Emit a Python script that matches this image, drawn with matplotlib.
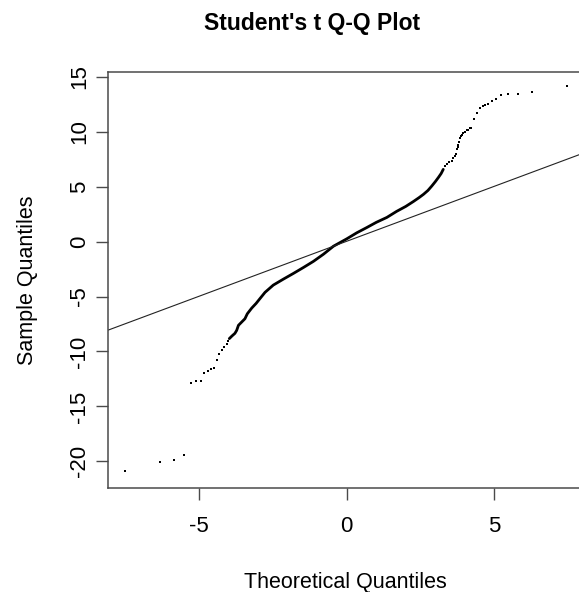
"""
Student's t Q-Q plot, R base-graphics look
Run: python plot.py
"""

import matplotlib
matplotlib.use("Agg")
import matplotlib.pyplot as plt

plt.rcParams['font.family'] = ['Liberation Sans', 'DejaVu Sans']

# Dense middle of the sample (ordered by theoretical quantile)
core_x = [-3.98, -3.89, -3.79, -3.73, -3.67, -3.56, -3.45, -3.37, -3.22, -3.07,
          -2.96, -2.77, -2.49, -2.15, -1.81, -1.47, -1.13, -0.79, -0.45, 0.0,
          0.34, 0.68, 1.0, 1.36, 1.69, 2.0, 2.26, 2.45, 2.6, 2.75,
          2.88, 3.0, 3.11, 3.2, 3.27]
core_y = [-8.83, -8.59, -8.35, -8.08, -7.62, -7.32, -7.02, -6.57, -6.05, -5.62,
          -5.25, -4.62, -3.96, -3.42, -2.9, -2.36, -1.8, -1.15, -0.42, 0.25,
          0.8, 1.28, 1.75, 2.2, 2.75, 3.2, 3.65, 4.0, 4.3, 4.65,
          5.05, 5.45, 5.85, 6.2, 6.57]

# Sparse tails
low_x = [-7.52, -6.33, -5.84, -5.50, -5.29, -5.11, -4.94, -4.83, -4.71, -4.60,
         -4.49, -4.41, -4.32, -4.24, -4.16, -4.07, -4.02]
low_y = [-20.85, -20.03, -19.85, -19.43, -12.88, -12.73, -12.64, -11.97, -11.76, -11.61,
         -11.49, -10.73, -10.19, -9.89, -9.62, -9.28, -9.05]

high_x = [3.33, 3.39, 3.47, 3.56, 3.61, 3.67, 3.70, 3.73, 3.76, 3.78,
          3.82, 3.84, 3.88, 3.90, 3.95, 4.01, 4.07, 4.12, 4.18, 4.21,
          4.32, 4.41, 4.50, 4.61, 4.69, 4.80, 4.92, 5.06, 5.23, 5.48,
          5.80, 6.29, 7.48]
high_y = [6.87, 7.02, 7.20, 7.32, 7.60, 7.77, 8.00, 8.38, 8.60, 8.83,
          9.04, 9.44, 9.60, 9.74, 9.85, 10.00, 10.13, 10.19, 10.30, 10.34,
          11.16, 11.70, 12.16, 12.30, 12.45, 12.52, 12.82, 12.97, 13.30, 13.42,
          13.42, 13.63, 14.15]

# qqline
line_intercept = 0.03
line_slope = 1.0

x_ticks = [-5, 0, 5]
y_ticks = [-20, -15, -10, -5, 0, 5, 10, 15]


def create_qq_plot():
    """Q-Q plot with reference line"""
    W, H = 579, 592
    fig = plt.figure(figsize=(W / 100, H / 100), dpi=100)
    # plot box runs a little past the right edge of the picture, as in the original
    ax = fig.add_axes([108 / W, 1 - 488 / H, 477.5 / W, 416 / H])
    xlim = (-8.09, 8.09)
    ylim = (-22.42, 15.43)

    edge = '#4a4a4a'
    ax.plot(core_x, core_y, color='black', lw=2.0, solid_capstyle='round')
    ax.plot(low_x, low_y, ls='none', marker='s', ms=2.1, mew=0, color='black')
    ax.plot(high_x, high_y, ls='none', marker='s', ms=2.1, mew=0, color='black')
    ax.plot(list(xlim), [line_intercept + line_slope * v for v in xlim],
            color='#222222', lw=0.8)

    ax.set_xlim(*xlim)
    ax.set_ylim(*ylim)
    ax.set_xticks(x_ticks)
    ax.set_yticks(y_ticks)
    ax.set_xticklabels([str(t) for t in x_ticks])
    ax.set_yticklabels([str(t) for t in y_ticks], rotation=90, va='center')

    for s in ax.spines.values():
        s.set_color(edge)
        s.set_linewidth(1.1)
    ax.tick_params(axis='both', direction='out', length=8.5, width=1.0,
                   color=edge, labelsize=16)
    ax.tick_params(axis='x', pad=12)
    ax.tick_params(axis='y', pad=4.5)

    fig.text(312 / W, 1 - 30 / H, "Student's t Q-Q Plot", ha='center',
             va='baseline', fontsize=16.5, fontweight='bold')
    fig.text(345 / W, 1 - 588 / H, 'Theoretical Quantiles', ha='center',
             va='baseline', fontsize=15.5)
    fig.text(28 / W, 1 - 280 / H, 'Sample Quantiles', ha='center',
             va='center', rotation=90, fontsize=15.5)

    fig.savefig('out.png', dpi=100)
    plt.close(fig)
    print("Created: out.png")


if __name__ == "__main__":
    create_qq_plot()
